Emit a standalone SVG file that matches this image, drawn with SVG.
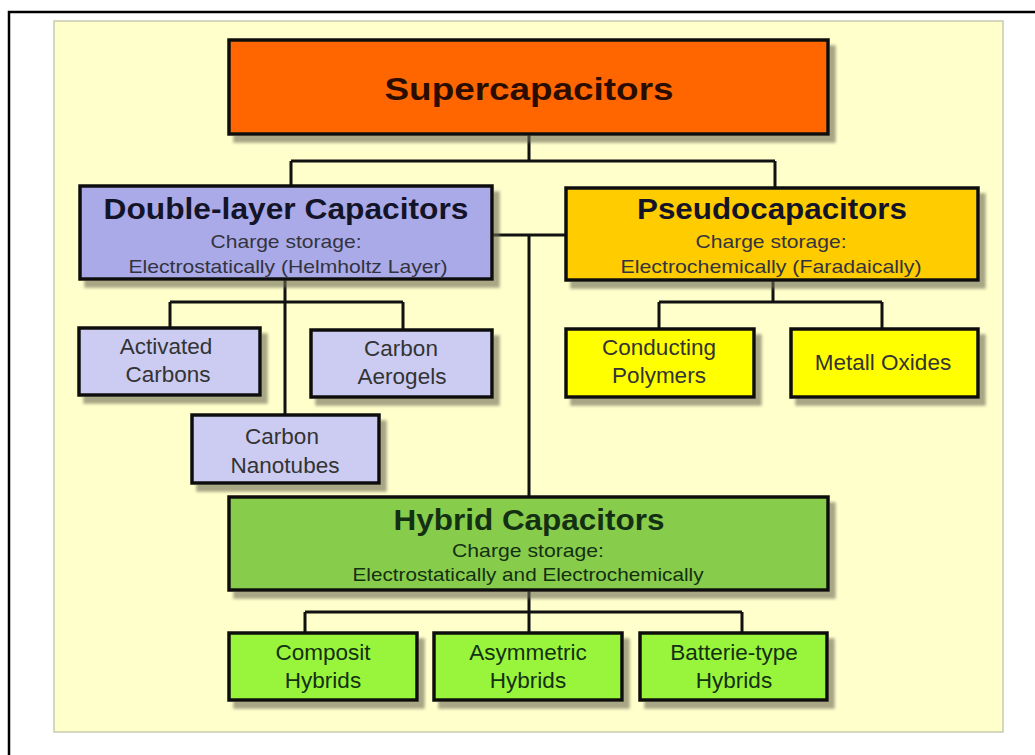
<svg xmlns="http://www.w3.org/2000/svg" width="1035" height="755" viewBox="0 0 1035 755">
<defs>
<filter id="sh" x="-10%" y="-10%" width="130%" height="140%">
<feDropShadow dx="6" dy="7" stdDeviation="1.8" flood-color="#6d6a55" flood-opacity="0.6"/>
</filter>
<style>
.box{stroke:#111;stroke-width:3.5;filter:url(#sh)}
.c{fill:none;stroke:#111;stroke-width:3}
text{font-family:"Liberation Sans",Arial,sans-serif;text-anchor:middle}
.h{font-weight:bold;font-size:29px;fill:#141428}
.s{font-size:19px;fill:#333340}
.n{font-size:22.5px;fill:#333}
.g{fill:#133013}
</style>
</defs>
<rect x="0" y="0" width="1035" height="755" fill="#ffffff"/>
<path d="M9 755 V12 H1035" fill="none" stroke="#000" stroke-width="2.5"/>
<rect x="54" y="21" width="949" height="711" fill="#ffffcc" stroke="#c8ccb0" stroke-width="1.5"/>
<g id="connectors">
<path class="c" d="M529 134 V161 M291 161 H775 M291 161 V186 M775 161 V188"/>
<path class="c" d="M492 235 H566 M529 235 V497"/>
<path class="c" d="M285 279 V415 M170 302 H403 M170 302 V328 M403 302 V330"/>
<path class="c" d="M773 280 V302 M659 302 H882 M659 302 V329 M882 302 V329"/>
<path class="c" d="M529 590 V633 M305 612 H742 M305 612 V633 M742 612 V633"/>
</g>
<g id="supercapacitors">
<rect class="box" x="229" y="40" width="599" height="94" fill="#ff6600"/>
<text x="529" y="100" font-weight="bold" font-size="32" fill="#2a0d00" textLength="289" lengthAdjust="spacingAndGlyphs">Supercapacitors</text>
</g>
<g id="double-layer">
<rect class="box" x="80" y="186" width="412" height="93" fill="#aaaae8"/>
<text class="h" x="286" y="219" textLength="365" lengthAdjust="spacingAndGlyphs">Double-layer Capacitors</text>
<text class="s" x="286" y="248" textLength="151" lengthAdjust="spacingAndGlyphs">Charge  storage:</text>
<text class="s" x="288" y="273" textLength="319" lengthAdjust="spacingAndGlyphs">Electrostatically (Helmholtz  Layer)</text>
</g>
<g id="pseudocapacitors">
<rect class="box" x="566" y="188" width="412" height="92" fill="#ffcc00"/>
<text class="h" x="772" y="219" fill="#201400" textLength="270" lengthAdjust="spacingAndGlyphs">Pseudocapacitors</text>
<text class="s" x="771" y="248" fill="#3a2f00" textLength="151" lengthAdjust="spacingAndGlyphs">Charge  storage:</text>
<text class="s" x="771" y="273" fill="#3a2f00" textLength="301" lengthAdjust="spacingAndGlyphs">Electrochemically   (Faradaically)</text>
</g>
<g id="activated-carbons">
<rect class="box" x="79" y="328" width="181" height="67" fill="#ccccf2"/>
<text class="n" x="166" y="354">Activated</text>
<text class="n" x="168" y="382">Carbons</text>
</g>
<g id="carbon-aerogels">
<rect class="box" x="311" y="330" width="181" height="67" fill="#ccccf2"/>
<text class="n" x="401" y="356">Carbon</text>
<text class="n" x="402" y="384">Aerogels</text>
</g>
<g id="carbon-nanotubes">
<rect class="box" x="192" y="415" width="187" height="68" fill="#ccccf2"/>
<text class="n" x="282" y="444">Carbon</text>
<text class="n" x="285" y="473">Nanotubes</text>
</g>
<g id="conducting-polymers">
<rect class="box" x="566" y="329" width="188" height="68" fill="#ffff00"/>
<text class="n" x="659" y="355" fill="#2e2e00">Conducting</text>
<text class="n" x="659" y="383" fill="#2e2e00">Polymers</text>
</g>
<g id="metall-oxides">
<rect class="box" x="791" y="329" width="187" height="68" fill="#ffff00"/>
<text class="n" x="883" y="370" fill="#2e2e00">Metall Oxides</text>
</g>
<g id="hybrid">
<rect class="box" x="229" y="497" width="599" height="93" fill="#88cc4c"/>
<text class="h g" x="529" y="530" textLength="271" lengthAdjust="spacingAndGlyphs">Hybrid Capacitors</text>
<text class="s g" x="528" y="557" textLength="152" lengthAdjust="spacingAndGlyphs">Charge  storage:</text>
<text class="s g" x="528" y="581" textLength="351" lengthAdjust="spacingAndGlyphs">Electrostatically and Electrochemically</text>
</g>
<g id="composit-hybrids">
<rect class="box" x="229" y="633" width="188" height="67" fill="#99f53a"/>
<text class="n g" x="323" y="660">Composit</text>
<text class="n g" x="323" y="688">Hybrids</text>
</g>
<g id="asymmetric-hybrids">
<rect class="box" x="434" y="633" width="188" height="67" fill="#99f53a"/>
<text class="n g" x="528" y="660">Asymmetric</text>
<text class="n g" x="528" y="688">Hybrids</text>
</g>
<g id="batterie-hybrids">
<rect class="box" x="640" y="633" width="187" height="67" fill="#99f53a"/>
<text class="n g" x="734" y="660">Batterie-type</text>
<text class="n g" x="734" y="688">Hybrids</text>
</g>
</svg>
